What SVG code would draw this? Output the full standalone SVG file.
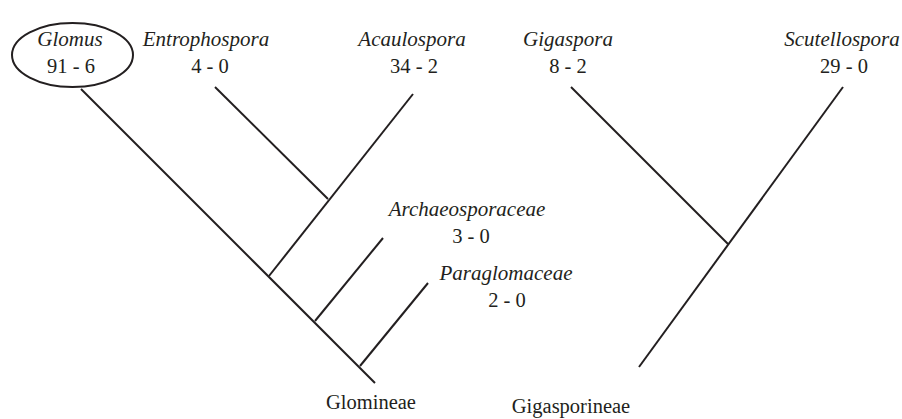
<svg xmlns="http://www.w3.org/2000/svg" width="902" height="419" viewBox="0 0 902 419">
<style>
text{font-family:"Liberation Serif","Times New Roman",serif;font-size:20.5px;fill:#231f20;text-anchor:middle}
.it{font-style:italic;font-size:21px}
.ln{stroke:#231f20;stroke-width:2;fill:none;stroke-linecap:butt}
</style>
<rect width="902" height="419" fill="#fff"/>
<g id="glomus">
<ellipse cx="72.5" cy="55" rx="60.5" ry="32" class="ln"/>
<text class="it" x="70" y="46">Glomus</text>
<text x="71" y="73">91 - 6</text>
</g>
<g id="entrophospora">
<text class="it" x="206" y="46">Entrophospora</text>
<text x="210" y="73">4 - 0</text>
</g>
<g id="acaulospora">
<text class="it" x="412" y="46">Acaulospora</text>
<text x="414" y="73">34 - 2</text>
</g>
<g id="gigaspora">
<text class="it" x="568" y="46">Gigaspora</text>
<text x="568" y="73">8 - 2</text>
</g>
<g id="scutellospora">
<text class="it" x="842" y="46">Scutellospora</text>
<text x="844" y="73">29 - 0</text>
</g>
<g id="archaeosporaceae">
<text class="it" x="467" y="216">Archaeosporaceae</text>
<text x="471" y="243">3 - 0</text>
</g>
<g id="paraglomaceae">
<text class="it" x="506" y="280">Paraglomaceae</text>
<text x="507" y="307">2 - 0</text>
</g>
<g id="glomineae">
<text x="371" y="409">Glomineae</text>
</g>
<g id="gigasporineae">
<text x="571" y="413">Gigasporineae</text>
</g>
<g id="connectors">
<line class="ln" x1="81" y1="89" x2="375" y2="383"/>
<line class="ln" x1="215" y1="87" x2="328" y2="199"/>
<line class="ln" x1="413" y1="94" x2="269" y2="276"/>
<line class="ln" x1="383" y1="238" x2="315" y2="321"/>
<line class="ln" x1="428" y1="283" x2="360" y2="366"/>
<line class="ln" x1="571" y1="87" x2="728" y2="244"/>
<line class="ln" x1="843" y1="87" x2="639" y2="367"/>
</g>
</svg>
